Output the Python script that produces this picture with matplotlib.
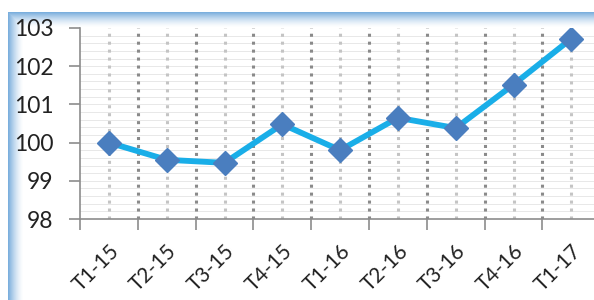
import numpy as np
import matplotlib.pyplot as plt
from matplotlib.colors import to_rgb
from matplotlib.transforms import ScaledTranslation

# datos
trimestres = ['T1-15', 'T2-15', 'T3-15', 'T4-15', 'T1-16', 'T2-16', 'T3-16', 'T4-16', 'T1-17']
valores = [100.0, 99.55, 99.47, 100.48, 99.8, 100.65, 100.38, 101.52, 102.72]
y_ticks = [98, 99, 100, 101, 102, 103]

W, H = 594, 300
fig = plt.figure(figsize=(W / 100, H / 100), dpi=100)

# marco con degradado azul (izquierda y arriba)
bg = fig.add_axes([0, 0, 1, 1])
bg.set_xlim(0, W)
bg.set_ylim(H, 0)
bg.axis('off')
img = np.ones((H, W, 3))
azul = np.array(to_rgb('#5b9bd5'))
xx = np.arange(W)
yy = np.arange(H)
fx = np.clip(1 - (xx - 8) / 15, 0, 1) * (xx >= 8)
fy = np.clip(1 - (yy - 12) / 15, 0, 1) * (yy >= 12)
F = np.maximum(fx[None, :] * (yy[:, None] >= 12), fy[:, None] * (xx[None, :] >= 8))
F = F ** 1.5 * 0.8
img = img * (1 - F[..., None]) + azul * F[..., None]
bg.imshow(img, extent=(0, W, H, 0), aspect='auto')

ax = fig.add_axes([80 / W, 81 / H, 1 - 80 / W, 191 / H])
ax.patch.set_alpha(0)
x = np.arange(len(trimestres))
ax.set_xlim(-0.5, -0.5 + (W - 80) / 57.8)
ax.set_ylim(98, 103)

# lineas de cuadricula
for yv in np.arange(98.2, 103, 0.2):
    ax.axhline(yv, color='#e8e8e8', lw=0.7, zorder=0)
for xv in x:
    ax.axvline(xv, color='#c4c4c4', lw=2.2, ls=(0, (1, 1.6)), zorder=0)
for xv in x[:-1] + 0.5:
    ax.axvline(xv, color='#8a8a8a', lw=2.2, ls=(0, (1, 1.6)), zorder=0)

ax.plot(x, valores, color='#19aee8', lw=4.2, zorder=2, solid_joinstyle='round')
ax.plot(x, valores, ls='none', marker='D', ms=12.5, color='#4a7ebf', zorder=3)

for s in ['top', 'right']:
    ax.spines[s].set_visible(False)
for s in ['left', 'bottom']:
    ax.spines[s].set_color('#8c8c8c')
    ax.spines[s].set_linewidth(1.2)

ax.set_yticks(y_ticks)
ax.set_yticklabels([str(v) for v in y_ticks], fontsize=16.5, family='Lato', color='#222222')
ax.set_xticks(np.arange(-0.5, 8.5, 1.0))
ax.set_xticklabels([])
ax.set_xticks(x, minor=True)
ax.set_xticklabels(trimestres, minor=True, rotation=45, ha='right', rotation_mode='anchor',
                   fontsize=15, family='Lato', color='#222222')
desplaza = ScaledTranslation(6 / 100, 0, fig.dpi_scale_trans)
for lbl in ax.get_xticklabels(minor=True):
    lbl.set_transform(lbl.get_transform() + desplaza)
ax.tick_params(axis='both', which='major', length=8, color='#8c8c8c', width=1.2)
ax.tick_params(axis='x', which='minor', length=0, pad=16)
ax.tick_params(axis='y', pad=11)

fig.savefig('out.png', dpi=100)
